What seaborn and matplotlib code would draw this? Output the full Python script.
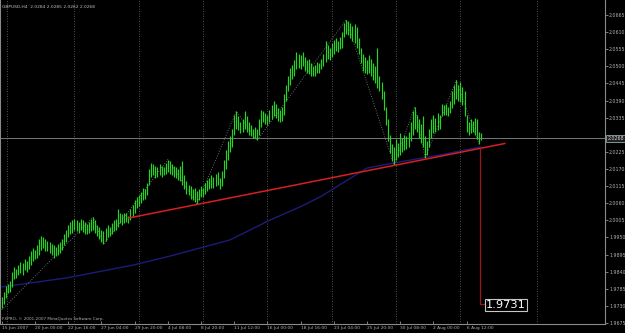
import matplotlib
matplotlib.use("Agg")
import matplotlib.pyplot as plt
import matplotlib.transforms as mtransforms
import seaborn as sns
import pandas as pd
import numpy as np

# ---------------- data ----------------
symbol_header = "GBPUSD,H4  2.0284 2.0285 2.0262 2.0268"
copyright_text = "FXPRO, \u00a9 2001-2007 MetaQuotes Software Corp."

highs = [1.9760,1.9775,1.9795,1.9800,1.9810,1.9840,1.9855,1.9850,1.9862,1.9870,1.9868,1.9880,1.9875,1.9890,
         1.9905,1.9915,1.9910,1.9925,1.9945,1.9955,
         1.9950,1.9945,1.9940,1.9935,1.9930,1.9925,1.9920,1.9930,1.9935,1.9945,
         1.9960,1.9975,1.9990,2.0000,2.0005,
         2.0010,2.0005,2.0000,2.0010,2.0005,1.9998,1.9992,2.0000,2.0008,2.0015,2.0005,1.9990,
         1.9985,1.9975,1.9970,1.9980,1.9990,1.9985,
         1.9995,2.0005,2.0010,2.0040,2.0030,2.0025,2.0030,2.0028,2.0020,
         2.0040,2.0055,2.0070,2.0080,2.0085,2.0095,2.0110,2.0105,2.0125,
         2.0170,2.0190,2.0185,2.0180,2.0175,2.0185,2.0180,2.0175,2.0190,2.0200,2.0195,2.0185,2.0180,2.0175,2.0170,2.0180,2.0195,
         2.0150,2.0130,2.0120,2.0115,2.0105,2.0110,2.0100,
         2.0105,2.0115,2.0110,2.0125,2.0135,2.0140,2.0150,2.0145,2.0155,2.0160,2.0140,2.0165,
         2.0200,2.0230,2.0260,2.0275,2.0300,
         2.0345,2.0355,2.0340,2.0320,2.0330,2.0355,2.0340,2.0320,2.0310,2.0300,2.0305,2.0300,
         2.0330,2.0360,2.0355,2.0350,2.0345,2.0360,2.0375,2.0390,2.0380,2.0365,2.0360,2.0370,
         2.0410,2.0440,2.0470,2.0495,2.0505,2.0520,
         2.0545,2.0540,2.0535,2.0545,2.0530,2.0520,2.0525,2.0510,2.0500,2.0505,2.0515,2.0510,
         2.0525,2.0540,2.0580,2.0570,2.0560,2.0575,2.0585,2.0590,2.0580,2.0595,2.0610,
         2.0640,2.0650,2.0645,2.0640,2.0630,2.0635,
         2.0625,2.0590,2.0560,2.0540,2.0530,2.0520,2.0535,2.0525,2.0510,2.0500,
         2.0560,2.0470,2.0450,2.0420,2.0370,2.0330,2.0280,2.0250,2.0240,
         2.0265,2.0255,2.0285,2.0270,2.0280,2.0275,2.0290,
         2.0320,2.0355,2.0370,2.0345,2.0330,2.0315,
         2.0340,2.0275,2.0260,
         2.0300,2.0330,2.0345,2.0335,2.0350,2.0345,
         2.0380,2.0375,2.0380,2.0370,2.0390,2.0420,2.0440,
         2.0455,2.0440,2.0450,2.0435,2.0420,2.0345,
         2.0320,2.0330,2.0325,2.0335,2.0330,2.0290,2.0285]

lows = [1.9722,1.9735,1.9755,1.9770,1.9775,1.9790,1.9815,1.9820,1.9830,1.9835,1.9830,1.9845,1.9840,1.9850,
        1.9860,1.9875,1.9880,1.9885,1.9895,1.9910,
        1.9915,1.9905,1.9905,1.9900,1.9895,1.9885,1.9890,1.9895,1.9900,1.9910,
        1.9925,1.9935,1.9950,1.9960,1.9965,
        1.9975,1.9970,1.9965,1.9975,1.9968,1.9962,1.9960,1.9965,1.9970,1.9975,1.9965,1.9955,
        1.9945,1.9935,1.9928,1.9940,1.9950,1.9955,
        1.9960,1.9970,1.9975,1.9985,1.9995,1.9990,1.9995,1.9998,1.9995,
        2.0005,2.0015,2.0030,2.0045,2.0050,2.0060,2.0070,2.0075,2.0085,
        2.0120,2.0145,2.0150,2.0140,2.0145,2.0150,2.0145,2.0150,2.0155,2.0160,2.0155,2.0150,2.0145,2.0140,2.0135,2.0130,2.0120,
        2.0105,2.0090,2.0085,2.0075,2.0070,2.0065,2.0058,
        2.0070,2.0080,2.0080,2.0090,2.0100,2.0105,2.0110,2.0110,2.0115,2.0120,2.0105,2.0115,
        2.0140,2.0170,2.0200,2.0225,2.0240,
        2.0280,2.0300,2.0295,2.0285,2.0290,2.0300,2.0290,2.0280,2.0275,2.0270,2.0268,2.0262,
        2.0280,2.0305,2.0320,2.0315,2.0310,2.0320,2.0330,2.0340,2.0335,2.0325,2.0320,2.0325,
        2.0345,2.0390,2.0420,2.0440,2.0460,2.0470,
        2.0490,2.0495,2.0490,2.0500,2.0485,2.0480,2.0475,2.0470,2.0468,2.0470,2.0480,2.0478,
        2.0490,2.0500,2.0515,2.0525,2.0520,2.0530,2.0540,2.0550,2.0545,2.0555,2.0560,
        2.0595,2.0605,2.0600,2.0590,2.0580,2.0575,
        2.0560,2.0540,2.0510,2.0485,2.0480,2.0475,2.0480,2.0470,2.0455,2.0445,
        2.0430,2.0420,2.0395,2.0360,2.0310,2.0260,2.0220,2.0195,2.0183,
        2.0200,2.0210,2.0215,2.0225,2.0230,2.0235,2.0240,
        2.0260,2.0280,2.0300,2.0290,2.0270,2.0255,
        2.0240,2.0205,2.0215,
        2.0240,2.0270,2.0285,2.0290,2.0295,2.0300,
        2.0340,2.0345,2.0345,2.0340,2.0350,2.0365,2.0380,
        2.0395,2.0390,2.0385,2.0375,2.0340,2.0290,
        2.0280,2.0285,2.0290,2.0280,2.0265,2.0250,2.0262]

bid_price = 2.0268
bid_label = "2.0268"

# moving average (read points: bar index, price)
ma_bars = [0, 31.4, 63.2, 81.1, 110, 129.3, 143.7, 153.4, 176, 188.5, 211.2, 231]
ma_vals = [1.9791, 1.9820, 1.9861, 1.9890, 1.9942, 2.0006, 2.0048, 2.0080, 2.0173, 2.0189, 2.0215, 2.0241]

# zigzag swing points
zz_bars = [0, 44, 49, 80, 94, 113, 123, 166, 189, 199, 204, 219, 230]
zz_vals = [1.9717, 2.0015, 1.9928, 2.0200, 2.0058, 2.0355, 2.0262, 2.0650, 2.0183, 2.0370, 2.0205, 2.0455, 2.0250]

# neckline trend line and target projection
neck_bars = [60.8, 242.5]
neck_vals = [2.0012, 2.0252]
proj_bar = 230.5
proj_top = 2.0236
target_val = 1.9735
target_label_bar = 233.3
target_label = "1.9731"

# axis ticks
y_ticks = [1.9675, 1.9730, 1.9785, 1.9840, 1.9895, 1.9950, 2.0005, 2.0060, 2.0115, 2.0170,
           2.0225, 2.0335, 2.0390, 2.0445, 2.0500, 2.0555, 2.0610, 2.0665]
x_tick_bars = [0, 16, 32, 48, 64, 80, 96, 112, 128, 144, 160, 176, 192, 208, 224]
x_tick_labels = ["15 Jun 2007", "20 Jun 00:00", "22 Jun 16:00", "27 Jun 04:00", "29 Jun 20:00",
                 "4 Jul 08:00", "8 Jul 20:00", "11 Jul 12:00", "16 Jul 00:00", "18 Jul 16:00",
                 "23 Jul 04:00", "25 Jul 20:00", "30 Jul 08:00", "2 Aug 00:00", "6 Aug 12:00"]
grid_bars = [2.5, 35, 66, 97, 128, 159, 190, 221, 258]

# ---------------- drawing ----------------
sns.set_theme(style="dark", rc={"axes.facecolor": "black", "figure.facecolor": "black"})
plt.rcParams['font.family'] = ['DejaVu Sans']

fig = plt.figure(figsize=(6.25, 3.33), dpi=100)
ax = fig.add_axes([0.0, 9/333, 605/625, 324/333])
ax.set_facecolor("black")

df = pd.DataFrame({"bar": np.arange(len(highs)), "high": highs, "low": lows})

# vertical dotted grid
for gb in grid_bars:
    ax.axvline(gb, color="#6a6a6a", lw=0.6, ls=(0, (1, 2)), zorder=1)

# bid line
ax.axhline(bid_price, color="#8a8a8a", lw=0.6, zorder=2)

# moving average
sns.lineplot(x=ma_bars, y=ma_vals, ax=ax, color="#1c1c78", lw=1.0, zorder=2)
# zigzag
sns.lineplot(x=zz_bars, y=zz_vals, ax=ax, color="#8a8a8a", lw=0.6, ls=(0, (1, 2)), zorder=2, sort=False)

# OHLC bars
ax.vlines(df["bar"], df["low"], df["high"], color="#22d622", lw=0.85, zorder=3)

# neckline
ax.plot(neck_bars, neck_vals, color="#d42020", lw=1.1, zorder=4)
# projection line
ax.plot([proj_bar, proj_bar, target_label_bar], [proj_top, target_val, target_val],
        color="#9a1818", lw=0.9, zorder=4)
ax.text(target_label_bar, target_val - 0.0002, target_label, color="white", fontsize=8.2,
        ha="left", va="center", zorder=6,
        bbox=dict(boxstyle="square,pad=0.12", fc="black", ec="#c8c8c8", lw=0.8))

ax.set_xlim(-0.87, 290.7)
ax.set_ylim(1.96717, 2.07131)

# axes styling
for s in ["left", "right", "bottom", "top"]:
    ax.spines[s].set_color("#8a8a8a")
    ax.spines[s].set_linewidth(0.8)
ax.spines["top"].set_visible(False)

ax.yaxis.tick_right()
ax.set_yticks(y_ticks)
ax.set_yticklabels([f"{v:.4f}" for v in y_ticks])
ax.tick_params(axis="y", colors="#b0b0b0", labelsize=3.4, length=2, width=0.5, pad=1,
               direction="out", right=True, left=False)
ax.set_xticks(x_tick_bars)
ax.set_xticklabels(x_tick_labels, ha="left")
ax.tick_params(axis="x", colors="#b0b0b0", labelsize=3.2, length=2, width=0.5, pad=1.5,
               direction="in", bottom=True)
ax.set_xlabel("")
ax.set_ylabel("")
ax.grid(False)

# bid price box on the axis
trans = mtransforms.blended_transform_factory(ax.transAxes, ax.transData)
ax.text(1.004, bid_price, bid_label, transform=trans, color="#d8d8d8", fontsize=3.4,
        ha="left", va="center", zorder=7, clip_on=False,
        bbox=dict(boxstyle="square,pad=0.25", fc="#202020", ec="#a8c8c8", lw=0.5))

# header and copyright
ax.text(0.004, 0.985, symbol_header, transform=ax.transAxes, color="#c0c0c0", fontsize=3.2,
        ha="left", va="top")
ax.text(0.004, 0.008, copyright_text, transform=ax.transAxes, color="#b0b0b0", fontsize=3.0,
        ha="left", va="bottom")

fig.savefig("out.png", dpi=100, facecolor="black")
